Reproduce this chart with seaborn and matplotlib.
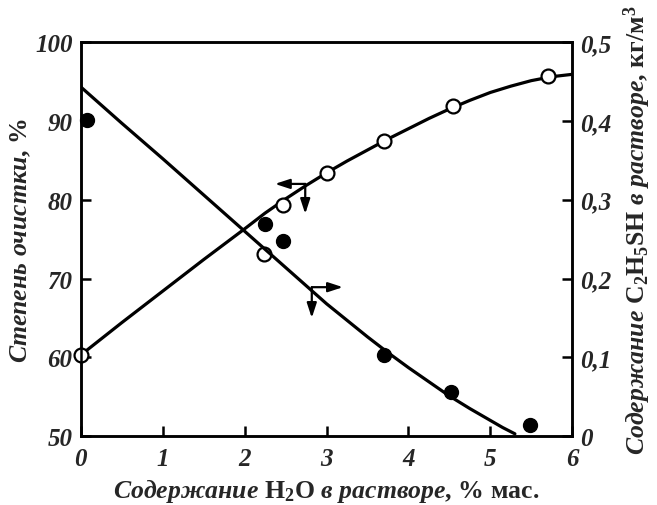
import matplotlib
matplotlib.use("Agg")
import matplotlib.pyplot as plt
import pandas as pd
import seaborn as sns

# ====== DATA ======
# open circles -> left axis (degree of purification, %)
water_open = [0.0, 2.24, 2.47, 3.0, 3.7, 4.55, 5.71]
degree_open = [60.3, 73.1, 79.3, 83.4, 87.4, 91.9, 95.7]

# filled circles -> right axis (C2H5SH content, kg/m3)
water_filled = [0.07, 2.25, 2.47, 3.7, 4.52, 5.49]
thiol_filled = [0.401, 0.269, 0.247, 0.103, 0.056, 0.014]

# smooth curves drawn through the points
curve_up_x = [0.0, 0.5, 1.0, 1.5, 2.0, 2.25, 2.5, 2.75, 3.0, 3.25, 3.5, 3.75,
              4.0, 4.25, 4.5, 4.75, 5.0, 5.25, 5.5, 5.75, 6.0]
curve_up_degree = [60.3, 64.4, 68.4, 72.4, 76.3, 78.3, 80.1, 81.8, 83.4, 84.9, 86.3, 87.7,
                   89.0, 90.3, 91.5, 92.6, 93.6, 94.4, 95.1, 95.6, 95.9]

curve_down_x = [0.0, 0.5, 1.0, 1.5, 2.0, 2.5, 3.0, 3.25, 3.5, 3.75,
                4.0, 4.25, 4.5, 4.75, 5.0, 5.15, 5.3]
curve_down_thiol = [0.443, 0.397, 0.352, 0.306, 0.260, 0.214, 0.168, 0.147, 0.126, 0.106,
                    0.087, 0.069, 0.051, 0.035, 0.020, 0.011, 0.003]

left_ticks = [50, 60, 70, 80, 90, 100]
right_ticks = [0, 0.1, 0.2, 0.3, 0.4, 0.5]
right_tick_labels = ["0", "0,1", "0,2", "0,3", "0,4", "0,5"]
x_ticks = [0, 1, 2, 3, 4, 5, 6]

# arrow markers: (start, end) in data units of each axis
ARROW_LEFT = [((2.74, 82.0), (2.37, 82.0)), ((2.74, 82.0), (2.74, 78.2))]
ARROW_RIGHT = [((2.82, 0.189), (3.20, 0.189)), ((2.82, 0.189), (2.82, 0.150))]
# =========================================

sns.set_style("ticks")
plt.rcParams["font.family"] = ["Liberation Serif", "DejaVu Serif"]
plt.rcParams["mathtext.fontset"] = "custom"
plt.rcParams["mathtext.rm"] = "Liberation Serif:bold"
plt.rcParams["mathtext.it"] = "Liberation Serif:italic:bold"
plt.rcParams["mathtext.bf"] = "Liberation Serif:bold"

LW = 2.3
tick_font = dict(family="Liberation Serif", weight="bold", style="italic", size=18)

fig = plt.figure(figsize=(6.57, 5.06), dpi=100)
ax = fig.add_axes([0.123, 0.136, 0.748, 0.779])
ax2 = ax.twinx()

up = pd.DataFrame({"x": curve_up_x, "y": curve_up_degree})
down = pd.DataFrame({"x": curve_down_x, "y": curve_down_thiol})
pts_open = pd.DataFrame({"x": water_open, "y": degree_open})
pts_filled = pd.DataFrame({"x": water_filled, "y": thiol_filled})

sns.lineplot(data=up, x="x", y="y", ax=ax, color="black", lw=LW, sort=False)
sns.scatterplot(data=pts_open, x="x", y="y", ax=ax, s=100, color="white",
                edgecolor="black", linewidth=1.6, zorder=5, clip_on=False)

sns.lineplot(data=down, x="x", y="y", ax=ax2, color="black", lw=LW, sort=False)
sns.scatterplot(data=pts_filled, x="x", y="y", ax=ax2, s=100, color="black",
                edgecolor="black", linewidth=1.0, zorder=5, clip_on=False)

ax.set_xlim(0, 6)
ax.set_ylim(50, 100)
ax2.set_ylim(0, 0.5)

ax.set_xticks(x_ticks)
ax.set_xticklabels([str(t) for t in x_ticks], fontdict=tick_font)
ax.set_yticks(left_ticks)
ax.set_yticklabels([str(t) for t in left_ticks], fontdict=tick_font)
ax2.set_yticks(right_ticks)
ax2.set_yticklabels(right_tick_labels, fontdict=tick_font)

for a in (ax, ax2):
    for sp in a.spines.values():
        sp.set_visible(True)
        sp.set_linewidth(1.8)
        sp.set_color("black")
    a.tick_params(direction="in", length=7, width=1.8, color="black")
ax.tick_params(axis="x", pad=8)
ax.tick_params(axis="y", pad=6)
ax2.tick_params(axis="y", pad=6)

ax.set_xlabel(r"$\mathit{Содержание}\ \mathrm{H_2O}\ \mathit{в\ растворе}{,}\ \mathrm{\%\ мас.}$",
              fontsize=18.5)
ax.xaxis.set_label_coords(0.5, -0.1)
ax.set_ylabel(r"$\mathit{Степень\ очистки}{,}\ \mathrm{\%}$", fontsize=18.5)
ax.yaxis.set_label_coords(-0.098, 0.5)
ax2.set_ylabel(r"$\mathit{Содержание}\ \mathrm{C_2H_5SH}\ \mathit{в\ растворе}{,}\ \mathrm{кг/м^3}$",
               fontsize=18.5, rotation=90)
ax2.yaxis.set_label_coords(1.1, 0.525)

arrow_props = dict(arrowstyle="-|>,head_length=0.55,head_width=0.18", color="black",
                   lw=1.6, mutation_scale=16, shrinkA=0, shrinkB=0)
for start, end in ARROW_LEFT:
    ax.annotate("", xy=end, xytext=start, arrowprops=arrow_props)
for start, end in ARROW_RIGHT:
    ax2.annotate("", xy=end, xytext=start, arrowprops=arrow_props)

fig.savefig("out.png", dpi=100)
plt.close(fig)
